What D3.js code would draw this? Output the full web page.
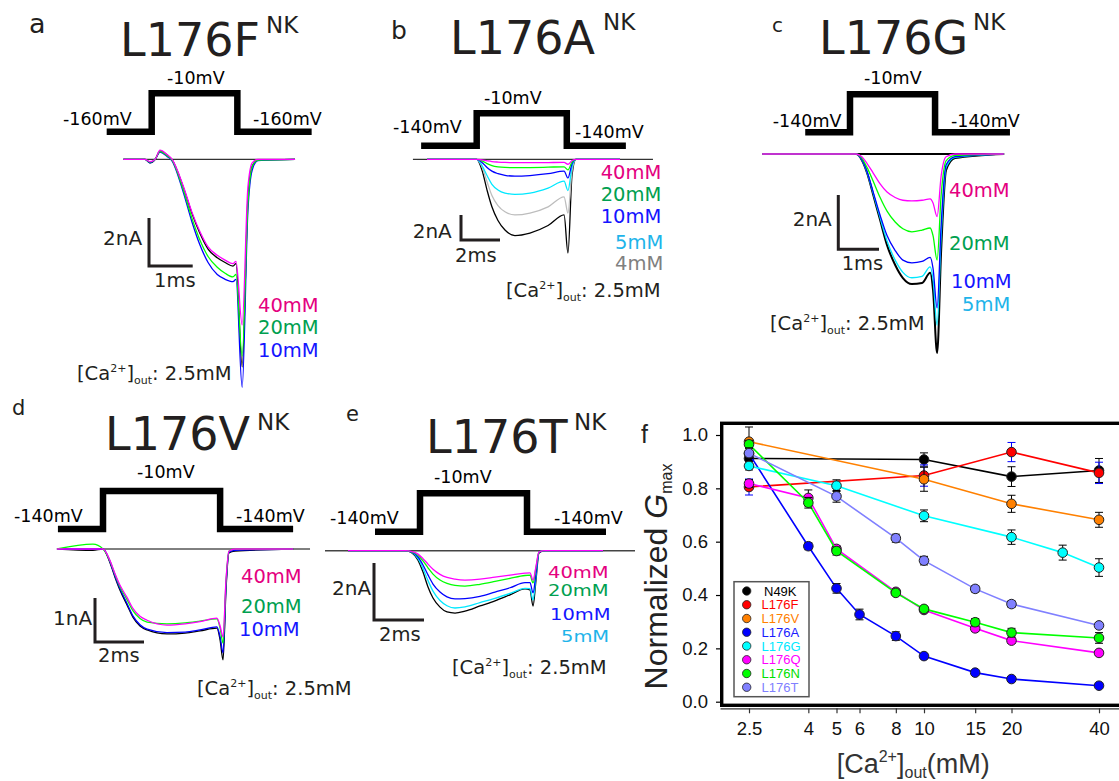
<!DOCTYPE html>
<html><head><meta charset="utf-8">
<script src="https://cdn.jsdelivr.net/npm/d3@7"></script>
<style>body{margin:0;background:#fff}svg{display:block}</style>
</head><body>
<svg id="c" width="1119" height="781"></svg>
<script>
// ================= Panel f data =================
const concTicks = [2.5, 4, 5, 6, 8, 10, 15, 20, 40];
const gTicks = [0, 0.2, 0.4, 0.6, 0.8, 1.0];
const seriesNames = ["N49K", "L176F", "L176V", "L176A", "L176G", "L176Q", "L176N", "L176T"];
const N49K_x = [2.5, 10, 20, 40];
const N49K_y = [0.912, 0.908, 0.844, 0.867];
const N49K_e = [0.02, 0.025, 0.037, 0.045];
const L176F_x = [2.5, 10, 20, 40];
const L176F_y = [0.805, 0.848, 0.936, 0.858];
const L176F_e = [0.03, 0.04, 0.036, 0.04];
const L176V_x = [2.5, 10, 20, 40];
const L176V_y = [0.975, 0.834, 0.742, 0.682];
const L176V_e = [0.055, 0.045, 0.032, 0.028];
const L176A_x = [2.5, 4, 5, 6, 8, 10, 15, 20, 40];
const L176A_y = [0.93, 0.583, 0.425, 0.327, 0.246, 0.171, 0.109, 0.085, 0.06];
const L176A_e = [0.01, 0.013, 0.018, 0.02, 0.016, 0.01, 0.008, 0.007, 0.006];
const L176G_x = [2.5, 5, 10, 20, 30, 40];
const L176G_y = [0.884, 0.81, 0.697, 0.617, 0.559, 0.503];
const L176G_e = [0.015, 0.022, 0.022, 0.027, 0.028, 0.033];
const L176Q_x = [2.5, 4, 5, 8, 10, 15, 20, 40];
const L176Q_y = [0.818, 0.764, 0.573, 0.412, 0.344, 0.275, 0.229, 0.183];
const L176Q_e = [0.015, 0.03, 0.012, 0.01, 0.01, 0.012, 0.01, 0.01];
const L176N_x = [2.5, 4, 5, 8, 10, 15, 20, 40];
const L176N_y = [0.965, 0.746, 0.565, 0.408, 0.348, 0.298, 0.259, 0.239];
const L176N_e = [0.015, 0.02, 0.015, 0.01, 0.01, 0.014, 0.016, 0.02];
const L176T_x = [2.5, 5, 8, 10, 15, 20, 40];
const L176T_y = [0.932, 0.77, 0.613, 0.529, 0.423, 0.366, 0.286];
const L176T_e = [0.02, 0.022, 0.015, 0.016, 0.012, 0.012, 0.01];

// ================= Current traces (ms, nA) =================
// Panel a  L176F
const a_t = [-0.65,-0.15,-0.04,0.08,0.19,0.35,0.46,0.72,0.92,1.1,1.29,1.5,1.68,1.86,1.93,2.07,2.2,2.3,2.43,3.28];
const a_I2p5 = [0,0,-0.15,0,0.35,0.18,0,-1.15,-2.25,-3.07,-3.74,-4.1,-4.3,-4.45,-4.35,-8.65,-1.7,-0.28,-0.03,0];
const a_I10 = [0,0,-0.15,0,0.3,0.12,-0.05,-1.35,-2.6,-3.55,-4.3,-4.8,-5.0,-5.1,-5.0,-9.5,-2.2,-0.45,-0.05,0];
const a_I20 = [0,0,-0.12,0,0.33,0.15,-0.02,-1.25,-2.45,-3.35,-4.05,-4.5,-4.75,-4.9,-4.8,-8.2,-1.9,-0.3,-0.03,0];
const a_I40 = [0,0,-0.1,0,0.38,0.2,0.02,-1.1,-2.2,-3.0,-3.65,-4.0,-4.2,-4.35,-4.25,-6.9,-1.2,-0.15,0,0];
// Panel b  L176A
const b_t = [-2.55,0,0.27,0.53,0.78,1.09,1.45,1.96,2.73,3.66,4.48,4.68,4.89,5.09,7.35];
const b_I2p5 = [0,0,-0.86,-2.46,-3.8,-4.9,-5.66,-6.1,-5.9,-5.3,-4.45,-7.5,-1.25,0,0];
const b_I4 = [0,0,-0.6,-1.8,-2.9,-3.7,-4.2,-4.45,-4.3,-3.8,-3.0,-4.3,-0.9,0,0];
const b_I5 = [0,0,-0.5,-1.3,-2.0,-2.45,-2.7,-2.8,-2.7,-2.3,-1.75,-2.5,-0.6,0,0];
const b_I10 = [0,0,-0.25,-0.65,-0.95,-1.15,-1.28,-1.35,-1.3,-1.15,-0.95,-1.5,-0.35,0,0];
const b_I20 = [0,0,-0.12,-0.35,-0.5,-0.6,-0.65,-0.67,-0.66,-0.63,-0.6,-0.85,-0.2,0,0];
const b_I40 = [0,0,-0.05,-0.12,-0.18,-0.22,-0.25,-0.27,-0.27,-0.26,-0.25,-0.4,-0.1,0,0];
// Panel c  L176G
const c_t = [-2.16,0.15,0.29,0.42,0.57,0.74,0.91,1.11,1.30,1.52,1.77,1.97,2.04,2.14,2.24,2.36,2.58,3.78];
const c_I2p5 = [0,0,-0.22,-0.7,-1.5,-2.43,-3.35,-4.08,-4.56,-4.78,-4.74,-4.37,-5.0,-7.32,-3.53,-0.59,-0.15,0];
const c_I5 = [0,0,-0.21,-0.68,-1.45,-2.35,-3.2,-3.9,-4.35,-4.55,-4.5,-4.15,-4.6,-6.3,-3.0,-0.5,-0.12,0];
const c_I10 = [0,0,-0.2,-0.65,-1.4,-2.25,-3.0,-3.55,-3.9,-4.0,-3.95,-3.8,-4.2,-5.66,-2.6,-0.4,-0.1,0];
const c_I20 = [0,0,-0.15,-0.5,-1.0,-1.6,-2.1,-2.5,-2.75,-2.86,-2.8,-2.72,-3.0,-3.9,-1.5,-0.25,-0.05,0];
const c_I40 = [0,0,-0.1,-0.35,-0.7,-1.1,-1.4,-1.6,-1.7,-1.72,-1.7,-1.65,-1.8,-2.3,-0.8,-0.1,0,0];
// Panel d  L176V
const d_t = [-1.88,-0.41,0,0.29,0.49,0.69,0.98,1.22,1.51,1.8,2.61,3.35,3.96,4.65,4.78,4.9,5.02,5.14,5.39,7.76];
const d_I2p5 = [0,-0.03,0,-0.32,-0.64,-0.93,-1.27,-1.55,-1.75,-1.84,-1.93,-1.91,-1.86,-1.8,-2.07,-2.52,-0.93,-0.09,-0.05,0];
const d_I10 = [0,0,0,-0.3,-0.62,-0.9,-1.24,-1.52,-1.72,-1.82,-1.9,-1.89,-1.84,-1.77,-2.0,-2.36,-0.85,-0.07,-0.03,0];
const d_I20 = [0,0.11,0,-0.28,-0.58,-0.85,-1.15,-1.4,-1.58,-1.66,-1.7,-1.68,-1.64,-1.59,-1.8,-2.14,-0.75,-0.05,0,0];
const d_I40 = [0,0,0,-0.27,-0.56,-0.82,-1.1,-1.35,-1.53,-1.62,-1.73,-1.7,-1.65,-1.57,-1.75,-2.0,-0.7,-0.05,0,0];
// Panel e  L176T
const e_t = [-2.88,-0.6,-0.32,-0.08,0.12,0.32,0.52,0.8,1.08,1.4,1.8,2.4,3.0,3.6,4.2,4.4,4.52,4.64,4.76,5.0,7.32];
const e_I2p5 = [0,0,-0.08,-0.33,-0.75,-1.27,-1.66,-1.98,-2.15,-2.19,-2.12,-1.94,-1.76,-1.55,-1.34,-1.38,-1.94,-1.03,-0.08,0,0];
const e_I5 = [0,0,-0.06,-0.28,-0.62,-1.05,-1.42,-1.75,-1.93,-2.01,-1.97,-1.82,-1.67,-1.5,-1.32,-1.33,-1.73,-0.9,-0.05,0,0];
const e_I10 = [0,0,-0.05,-0.22,-0.5,-0.85,-1.17,-1.45,-1.62,-1.69,-1.68,-1.6,-1.45,-1.3,-1.12,-1.12,-1.48,-0.8,-0.05,0,0];
const e_I20 = [0,0,-0.04,-0.16,-0.36,-0.6,-0.82,-1.03,-1.15,-1.22,-1.24,-1.18,-1.08,-0.97,-0.87,-0.86,-1.13,-0.6,-0.04,0,0];
const e_I40 = [0,0,-0.03,-0.12,-0.28,-0.47,-0.65,-0.83,-0.94,-1.0,-1.03,-1.0,-0.93,-0.86,-0.79,-0.78,-1.03,-0.55,-0.04,0,0];

// Voltage protocols: [start, on, off, end] in ms, holding potential, test potential
const a_step = [-1.03, 0, 1.96, 3.66], a_hold = -160;
const b_step = [-2.85, 0, 4.62, 7.65], b_hold = -140;
const c_step = [-1.1, 0, 2.09, 3.93], c_hold = -140;
const d_step = [-1.84, 0, 4.78, 7.76], d_hold = -140;
const e_step = [-1.8, 0, 4.28, 7.44], e_hold = -140;
const testPot = -10;
const baseConc = "2.5mM";

// ================= Rendering =================
const svg = d3.select("#c");
const DJ = "'DejaVu Sans', sans-serif";
const AR = "'Liberation Sans', Arial, sans-serif";
const DARK = "#231f20";

function txt(g, x, y, s, size, color, fam, anchor) {
  return g.append("text").attr("x", x).attr("y", y)
    .attr("font-family", fam || DJ).attr("font-size", size)
    .attr("fill", color).attr("text-anchor", anchor || "start").text(s);
}

const concColor = { "40": "#e4007f", "20": "#00a050", "10": "#1515ff", "5": "#1eb4ea", "4": "#808080" };
const traceColor = { "2.5": "#000000", "4": "#bdbdbd", "5": "#00e8ff", "10": "#0000ff", "20": "#00ff00", "40": "#ff00ff" };

function drawPanel(p) {
  const g = svg.append("g");
  const x = d3.scaleLinear().domain([0, 1]).range([p.x0, p.x0 + p.pxMs]);
  const y = d3.scaleLinear().domain([0, -1]).range([p.y0, p.y0 + p.pxNa]);
  const v = d3.scaleLinear().domain([p.hold, testPot]).range([p.vLow, p.vHigh]);

  // letter, title
  txt(g, p.letter[1], p.letter[2], p.letter[0], p.letter[3], DARK);
  txt(g, p.title[1], p.title[2], p.title[0], 46, DARK);
  txt(g, p.nk[0], p.nk[1], "NK", 23, DARK);

  // voltage step
  const s = p.step;
  const stepPts = [[s[0], p.hold], [s[1], p.hold], [s[1], testPot], [s[2], testPot], [s[2], p.hold], [s[3], p.hold]];
  g.append("path").attr("d", d3.line().x(d => x(d[0])).y(d => v(d[1]))(stepPts))
    .attr("fill", "none").attr("stroke", "#000").attr("stroke-width", 6.5).attr("stroke-linejoin", "miter");
  txt(g, p.vl[0][0], p.vl[0][1], testPot + "mV", 17.5, "#000");
  txt(g, p.vl[1][0], p.vl[1][1], p.hold + "mV", 17.5, "#000");
  txt(g, p.vl[2][0], p.vl[2][1], p.hold + "mV", 17.5, "#000");

  // baseline (zero current)
  g.append("line").attr("x1", x(p.base[0])).attr("x2", x(p.base[1]))
    .attr("y1", y(0)).attr("y2", y(0)).attr("stroke", p.baseColor).attr("stroke-width", p.baseW);

  // traces
  const line = d3.line().curve(d3.curveMonotoneX).x(d => x(d[0])).y(d => y(d[1]));
  p.traces.forEach(tr => {
    const pts = p.t.map((t, i) => [t, tr[1][i]]);
    g.append("path").attr("d", line(pts)).attr("fill", "none")
      .attr("stroke", traceColor[tr[0]]).attr("stroke-width", tr[0] === "2.5" ? p.blackW : 1.3);
  });

  // scale bar
  const cx = p.bar[0], cy = p.bar[1];
  const hl = x(p.barMs) - x(0), vl = y(-p.barNa) - y(0);
  g.append("path").attr("d", `M${cx},${cy - vl}L${cx},${cy}L${cx + hl},${cy}`)
    .attr("fill", "none").attr("stroke", DARK).attr("stroke-width", 3);
  txt(g, p.barLab[0][0], p.barLab[0][1], p.barNa + "nA", 20, DARK);
  txt(g, p.barLab[1][0], p.barLab[1][1], p.barMs + "ms", 19.5, DARK);

  // concentration labels
  const cs = p.concSize || 19.5;
  p.conc.forEach(c => {
    const t = txt(g, c[1], c[2], c[0] + "mM", cs, concColor[c[0]]);
    if (cs < 19.5) t.attr("textLength", (c[0].length + 2) * 0.0 + 3.109 * 19.5 * (c[0].length === 2 ? 1 : 0.795)).attr("lengthAdjust", "spacingAndGlyphs");
  });

  // [Ca2+]out label
  const t = g.append("text").attr("x", p.ca[0]).attr("y", p.ca[1]).attr("font-family", DJ)
    .attr("font-size", 19.5).attr("fill", DARK);
  t.append("tspan").text("[Ca");
  t.append("tspan").attr("font-size", 11).attr("dy", -8).text("2+");
  t.append("tspan").attr("dy", 8).text("]");
  t.append("tspan").attr("font-size", 11).attr("dy", 4).text("out");
  t.append("tspan").attr("dy", -4).text(": " + baseConc);
}

drawPanel({
  letter: ["a", 29, 33, 27], title: ["L176F", 120, 56], nk: [266, 33],
  x0: 151.7, pxMs: 43.7, y0: 159.3, pxNa: 24, hold: a_hold, vLow: 131.7, vHigh: 93.3, step: a_step,
  vl: [[167, 84], [63, 125], [253, 125]], base: [-0.65, 3.28], baseColor: "#000", baseW: 1,
  t: a_t, traces: [["2.5", a_I2p5], ["10", a_I10], ["20", a_I20], ["40", a_I40]], blackW: 1.3,
  bar: [149, 266], barMs: 1, barNa: 2, barLab: [[103, 245], [154, 287]],
  conc: [["40", 258, 312], ["20", 258, 334], ["10", 258, 357]], ca: [77, 380]
});
drawPanel({
  letter: ["b", 391, 39, 25], title: ["L176A", 450, 54], nk: [603, 30],
  x0: 476.7, pxMs: 19.5, y0: 159.3, pxNa: 12.5, hold: b_hold, vLow: 145.7, vHigh: 113.3, step: b_step,
  vl: [[484, 104], [393, 133], [575, 138]], base: [-3.27, 9.04], baseColor: "#000", baseW: 1,
  t: b_t, traces: [["2.5", b_I2p5], ["4", b_I4], ["5", b_I5], ["10", b_I10], ["20", b_I20], ["40", b_I40]], blackW: 1.3,
  bar: [461, 240], barMs: 2, barNa: 2, barLab: [[412.7, 238], [455, 262]],
  conc: [["40", 600.7, 179], ["20", 600.7, 201], ["10", 600.7, 223], ["5", 615, 249], ["4", 615, 270]], ca: [506, 297]
});
drawPanel({
  letter: ["c", 772, 32, 20], title: ["L176G", 819, 54], nk: [973, 30],
  x0: 850, pxMs: 40.7, y0: 154, pxNa: 27.2, hold: c_hold, vLow: 132.3, vHigh: 94.3, step: c_step,
  vl: [[864, 84], [772.7, 126.7], [951, 127]], base: [-2.16, 3.79], baseColor: "#000", baseW: 2,
  t: c_t, traces: [["2.5", c_I2p5], ["5", c_I5], ["10", c_I10], ["20", c_I20], ["40", c_I40]], blackW: 2,
  bar: [838.3, 249.3], barMs: 1, barNa: 2, barLab: [[792.7, 226], [841.7, 270]],
  conc: [["40", 949, 196.7], ["20", 949, 250], ["10", 951, 288.3], ["5", 962, 310.7]], ca: [770, 330]
});
drawPanel({
  letter: ["d", 12, 415, 21], title: ["L176V", 105, 450], nk: [257, 430],
  x0: 103, pxMs: 24.5, y0: 549, pxNa: 44, hold: d_hold, vLow: 529, vHigh: 491, step: d_step,
  vl: [[137, 477.7], [14, 522], [236, 522]], base: [-1.88, 8.45], baseColor: "#000", baseW: 1,
  t: d_t, traces: [["2.5", d_I2p5], ["10", d_I10], ["20", d_I20], ["40", d_I40]], blackW: 1.3,
  bar: [95, 642], barMs: 2, barNa: 1, barLab: [[53, 625], [98, 662]],
  conc: [["40", 241, 583], ["20", 241, 613], ["10", 239, 635.7]], ca: [197, 695]
});
drawPanel({
  letter: ["e", 346, 420.7, 21], title: ["L176T", 426, 452.7], nk: [574, 430],
  x0: 420, pxMs: 25, y0: 550.7, pxNa: 28.5, hold: e_hold, vLow: 531.7, vHigh: 493.3, step: e_step,
  vl: [[434, 483], [330, 524], [554, 524]], base: [-3.8, 8.6], baseColor: "#444", baseW: 1.5,
  t: e_t, traces: [["2.5", e_I2p5], ["5", e_I5], ["10", e_I10], ["20", e_I20], ["40", e_I40]], blackW: 1.3,
  bar: [374, 620], barMs: 2, barNa: 2, barLab: [[332, 595], [379, 640.7]],
  conc: [["40", 548, 577.5], ["20", 548, 596], ["10", 550, 620], ["5", 561, 641.7]], concSize: 15.5, ca: [452, 674]
});

// ================= Panel f =================
const gf = svg.append("g");
const xBase = d3.scaleLog().domain([2.5, 40]).range([749, 1099]);
const xS = d3.scaleLog().domain([xBase.invert(720), xBase.invert(1119)]).range([720, 1119]);
const yS = d3.scaleLinear().domain([0, 1]).range([701.7, 435]);

const serColor = { N49K: "#000000", L176F: "#ff0000", L176V: "#ff8000", L176A: "#0000ff",
  L176G: "#00ffff", L176Q: "#ff00ff", L176N: "#00ff00", L176T: "#8080ff" };
const textColor = { N49K: "#000000", L176F: "#ff0000", L176V: "#ff8000", L176A: "#1a1aff",
  L176G: "#00e8ff", L176Q: "#ff00ff", L176N: "#00e000", L176T: "#8080ff" };
const errColor = { L176F: "#0000ff" };
const seriesData = {
  N49K: [N49K_x, N49K_y, N49K_e], L176F: [L176F_x, L176F_y, L176F_e], L176V: [L176V_x, L176V_y, L176V_e],
  L176A: [L176A_x, L176A_y, L176A_e], L176G: [L176G_x, L176G_y, L176G_e], L176Q: [L176Q_x, L176Q_y, L176Q_e],
  L176N: [L176N_x, L176N_y, L176N_e], L176T: [L176T_x, L176T_y, L176T_e]
};

// frame
gf.append("rect").attr("x", 721.7).attr("y", 423.3).attr("width", 500).attr("height", 282)
  .attr("fill", "none").attr("stroke", "#000").attr("stroke-width", 3.4);

// y axis
const yAx = gf.append("g").attr("transform", "translate(720,0)")
  .call(d3.axisLeft(yS).tickValues(gTicks).tickFormat(d3.format(".1f")).tickSize(4).tickPadding(8));
yAx.select(".domain").remove();
yAx.selectAll("text").attr("font-family", AR).attr("font-size", 18.5).attr("fill", "#111");
yAx.selectAll("line").attr("stroke", "#000").attr("stroke-width", 1.2);

// x axis
const xAx = gf.append("g").attr("transform", "translate(0,708.3)")
  .call(d3.axisBottom(xS).tickValues(concTicks).tickFormat(d => d).tickSize(5).tickSizeOuter(0).tickPadding(8.6));
xAx.select(".domain").attr("stroke", "#333").attr("stroke-width", 1.2);
xAx.selectAll("line").attr("stroke", "#333").attr("stroke-width", 1.2);
xAx.selectAll("text").attr("font-family", AR).attr("font-size", 18.5).attr("fill", "#111");

// series
const lineF = d3.line().x(d => xS(d[0])).y(d => yS(d[1]));
seriesNames.forEach(n => {
  const [xs, ys, es] = seriesData[n];
  const pts = xs.map((xv, i) => [xv, ys[i], es[i]]);
  const sg = gf.append("g");
  sg.append("path").attr("d", lineF(pts)).attr("fill", "none").attr("stroke", serColor[n]).attr("stroke-width", 1.6);
  const ec = errColor[n] || "#000";
  pts.forEach(p => {
    const px = xS(p[0]), y1 = yS(p[1] + p[2]), y2 = yS(p[1] - p[2]);
    sg.append("path").attr("d", `M${px},${y1}L${px},${y2}M${px - 4},${y1}L${px + 4},${y1}M${px - 4},${y2}L${px + 4},${y2}`)
      .attr("stroke", ec).attr("stroke-width", 1).attr("fill", "none");
  });
  sg.selectAll("circle.m").data(pts).enter().append("circle")
    .attr("cx", d => xS(d[0])).attr("cy", d => yS(d[1])).attr("r", 4.8)
    .attr("fill", serColor[n]).attr("stroke", "#222").attr("stroke-width", 1);
});

// legend
const lg = gf.append("g");
lg.append("rect").attr("x", 734).attr("y", 581.7).attr("width", 75).attr("height", 115)
  .attr("fill", "#fff").attr("stroke", "#555").attr("stroke-width", 1.5);
seriesNames.forEach((n, i) => {
  const cy = 591 + i * 13.75;
  lg.append("circle").attr("cx", 746.7).attr("cy", cy).attr("r", 4.2).attr("fill", serColor[n]).attr("stroke", "#222").attr("stroke-width", 0.8);
  txt(lg, n === "N49K" ? 764 : 761.5, cy + 4.6, n, 13, textColor[n], AR);
});

// labels
txt(gf, 641, 443, "f", 25, "#222", AR);
const yl = gf.append("text").attr("transform", "translate(667,576.5) rotate(-90)")
  .attr("text-anchor", "middle").attr("font-family", AR).attr("font-size", 32).attr("fill", "#222");
yl.append("tspan").text("Normalized ");
yl.append("tspan").attr("font-style", "italic").text("G");
yl.append("tspan").attr("font-size", 16).attr("dy", 5).text("max");

const xl = gf.append("text").attr("x", 836.7).attr("y", 773).attr("font-family", AR).attr("font-size", 27).attr("fill", "#333");
xl.append("tspan").text("[Ca");
xl.append("tspan").attr("font-size", 16).attr("dy", -11).text("2+");
xl.append("tspan").attr("dy", 11).text("]");
xl.append("tspan").attr("font-size", 16).attr("dy", 5).text("out");
xl.append("tspan").attr("dy", -5).text("(mM)");
</script>
</body></html>
